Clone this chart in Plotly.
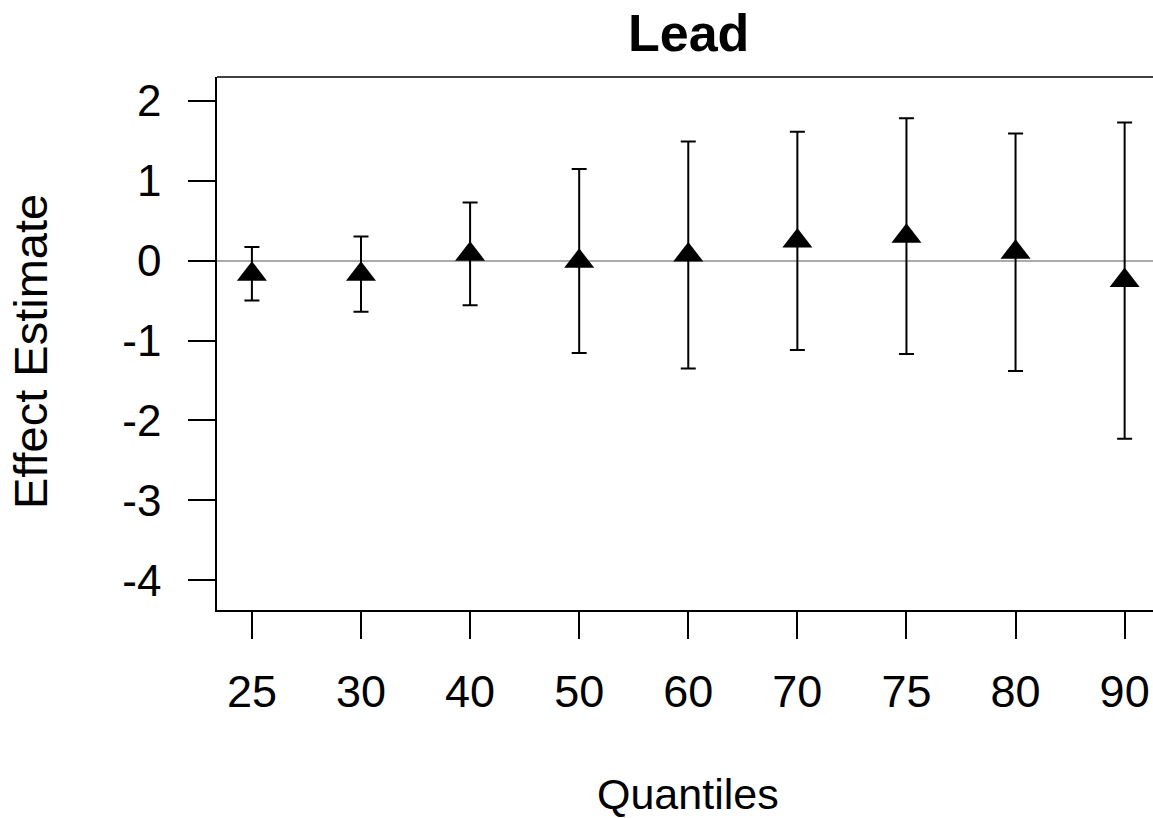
import plotly.graph_objects as go

# ---- data ----
quantiles = ["25", "30", "40", "50", "60", "70", "75", "80", "90"]
estimate = [-0.17, -0.17, 0.08, -0.01, 0.07, 0.245, 0.305, 0.105, -0.25]
lower = [-0.50, -0.64, -0.56, -1.155, -1.35, -1.12, -1.17, -1.38, -2.23]
upper = [0.17, 0.30, 0.725, 1.145, 1.49, 1.61, 1.78, 1.59, 1.725]
y_tickvals = [-4, -3, -2, -1, 0, 1, 2]
y_ticktext = ["-4", "-3", "-2", "-1", "0", "1", "2"]

err_plus = [u - e for u, e in zip(upper, estimate)]
err_minus = [e - l for e, l in zip(estimate, lower)]

FONT = "Liberation Sans, Arial, sans-serif"

fig = go.Figure()
fig.add_trace(go.Scatter(
    x=quantiles, y=estimate, mode="markers",
    marker=dict(symbol="triangle-up", size=26, color="black", line=dict(width=0)),
    error_y=dict(type="data", array=err_plus, arrayminus=err_minus,
                 color="black", thickness=2, width=7.5),
    showlegend=False, cliponaxis=False,
))

fig.update_layout(
    width=1153, height=818,
    margin=dict(l=217, r=0, t=77, b=208),
    paper_bgcolor="white", plot_bgcolor="white",
    font=dict(family=FONT, color="black"),
    xaxis=dict(
        type="category", range=[-0.32, 8.26],
        showline=True, linecolor="black", linewidth=1.5,
        ticks="outside", ticklen=27, tickwidth=1.5, tickcolor="black",
        showgrid=False, zeroline=False,
        tickfont=dict(size=45, family=FONT, color="black"),
        ticklabelstandoff=14,
    ),
    yaxis=dict(
        range=[-4.37, 2.295],
        tickvals=y_tickvals, ticktext=y_ticktext,
        showline=True, linecolor="black", linewidth=1.5,
        ticks="outside", ticklen=27, tickwidth=1.5, tickcolor="black",
        showgrid=False,
        zeroline=True, zerolinecolor="#ababab", zerolinewidth=1.5,
        tickfont=dict(size=44, family=FONT, color="black"),
        ticklabelstandoff=18,
    ),
    shapes=[dict(type="line", xref="paper", yref="paper", x0=0, x1=1, y0=1, y1=1,
                 line=dict(color="black", width=1.5))],
    annotations=[
        dict(text="<b>Lead</b>", xref="paper", yref="paper", x=0.504, y=(610 - 33) / 533,
             xanchor="center", yanchor="middle", showarrow=False,
             font=dict(size=52, family=FONT, color="black")),
        dict(text="Quantiles", xref="paper", yref="paper", x=0.503, y=(610 - 794) / 533,
             xanchor="center", yanchor="middle", showarrow=False,
             font=dict(size=43, family=FONT, color="black")),
        dict(text="Effect Estimate", xref="paper", yref="paper", x=(30 - 217) / 936,
             y=(610 - 352) / 533, textangle=-90,
             xanchor="center", yanchor="middle", showarrow=False,
             font=dict(size=47, family=FONT, color="black")),
    ],
)

fig.write_html("out.html")
